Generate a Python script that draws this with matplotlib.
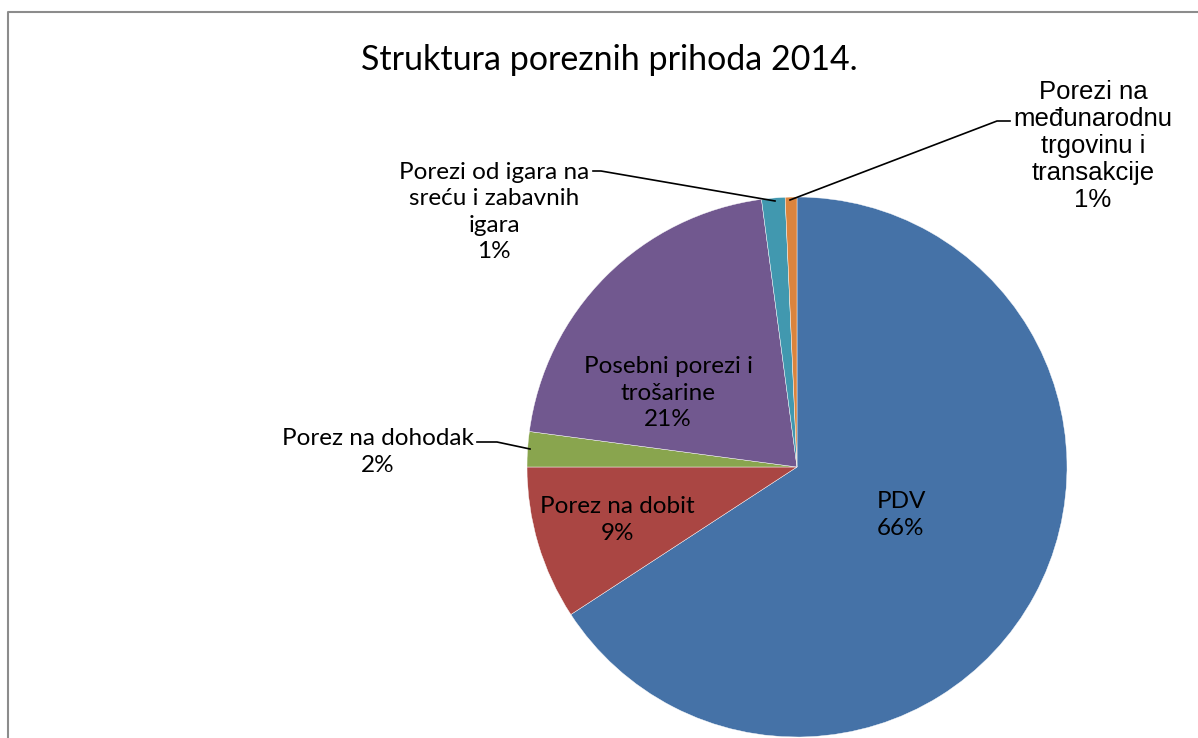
import matplotlib.pyplot as plt

# data (shares in %)
categories = ['PDV', 'Porez na dobit', 'Porez na dohodak',
              'Posebni porezi i trošarine',
              'Porezi od igara na sreću i zabavnih igara',
              'Porezi na međunarodnu trgovinu i transakcije']
shares = [65.8, 9.2, 2.1, 20.8, 1.4, 0.7]
pct_labels = ['66%', '9%', '2%', '21%', '1%', '1%']
colors = ['#4572A7', '#AA4643', '#89A54E', '#71588F', '#4198AF', '#DB843D']

W, H = 1198, 738
fig = plt.figure(figsize=(W / 100, H / 100), dpi=100)
ax = fig.add_axes([0, 0, 1, 1])

# frame (only top and left edges visible)
ax.plot([8, 8, W], [0, H - 12, H - 12], color='#8c8c8c', lw=1.5)

cx, cy, r = 797, H - 467, 270
ax.pie(shares, colors=colors, startangle=90, counterclock=False,
       center=(cx, cy), radius=r, frame=True,
       wedgeprops=dict(edgecolor='white', linewidth=0.3))
ax.set_xlim(0, W)
ax.set_ylim(0, H)
ax.axis('off')

font = 'Lato'
fs = 17.5
ax.text(609, H - 60, 'Struktura poreznih prihoda 2014.', ha='center', va='center',
        fontsize=24.5, family=font)

# labels inside slices
ax.text(901, H - 515, categories[0] + '\n' + pct_labels[0], ha='center', va='center',
        fontsize=fs, family=font, linespacing=1.3)
ax.text(617, H - 520, categories[1] + '\n' + pct_labels[1], ha='center', va='center',
        fontsize=fs, family=font, linespacing=1.3)
ax.text(668, H - 393, 'Posebni porezi i\ntrošarine\n' + pct_labels[3], ha='center',
        va='center', fontsize=fs, family=font, linespacing=1.3)

# outside labels with leader lines
ax.text(378, H - 452, categories[2] + '\n' + pct_labels[2], ha='center', va='center',
        fontsize=fs, family=font, linespacing=1.3)
ax.plot([477, 497, 530], [H - 442, H - 442, H - 449], color='black', lw=1.2)

ax.text(494, H - 212, 'Porezi od igara na\nsreću i zabavnih\nigara\n' + pct_labels[4],
        ha='center', va='center', fontsize=fs, family=font, linespacing=1.32)
ax.plot([593, 601, 775], [H - 171, H - 171, H - 201], color='black', lw=1.2)

ax.text(1093, H - 146, 'Porezi na\nmeđunarodnu\ntrgovinu i\ntransakcije\n' + pct_labels[5],
        ha='center', va='center', fontsize=18.5, family='Liberation Sans', linespacing=1.17)
ax.plot([1010, 997, 790], [H - 121, H - 121, H - 200], color='black', lw=1.2)

plt.savefig('out.png', dpi=100)
